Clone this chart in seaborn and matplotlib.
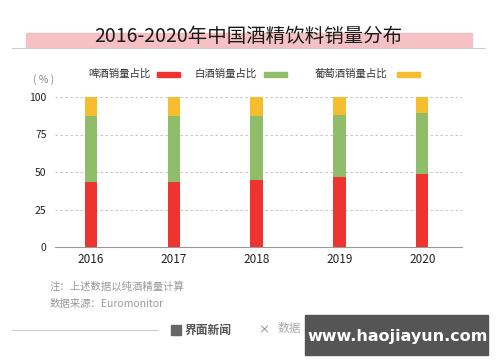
import numpy as np
import pandas as pd
import matplotlib
matplotlib.use('Agg')
import matplotlib.pyplot as plt
import seaborn as sns
from matplotlib.patches import Rectangle

years = ['2016', '2017', '2018', '2019', '2020']
beer = [43.6, 43.6, 44.7, 46.5, 48.7]
baijiu = [43.8, 44.0, 42.9, 41.8, 40.9]
wine = [12.6, 12.4, 12.4, 11.7, 10.4]
series_names = ['啤酒销量占比', '白酒销量占比', '葡萄酒销量占比']
colors = ['#ee3431', '#8fbd6a', '#f6bd2f']
yticks = [0, 25, 50, 75, 100]

sns.set_theme(style='white')
plt.rcParams['font.family'] = ['Noto Sans CJK SC', 'DejaVu Sans']

df = pd.DataFrame({'year': years, 'beer': beer, 'baijiu': baijiu, 'wine': wine})
df['top'] = df['beer'] + df['baijiu'] + df['wine']
df['mid'] = df['beer'] + df['baijiu']

fig = plt.figure(figsize=(5, 3.62), dpi=100)
W, H = 500, 362
ax = fig.add_axes([55 / W, (H - 247) / H, (462 - 55) / W, 150 / H])

# stacked by layering cumulative heights
for col, c in zip(['top', 'mid', 'beer'], colors[::-1]):
    sns.barplot(data=df, x='year', y=col, color=c, width=0.15, ax=ax,
                saturation=1, edgecolor='none')

ax.set_xlim(-0.435, 4.48)
ax.set_ylim(0, 100)
ax.set_yticks(yticks)
ax.set_yticklabels([str(t) for t in yticks], fontsize=7.5, color='#222222')
ax.set_xticks(range(len(years)))
ax.set_xticklabels(years, fontsize=8.5, color='#222222')
ax.tick_params(axis='x', pad=4, length=0)
ax.tick_params(axis='y', pad=6, length=0)
ax.set_xlabel('')
ax.set_ylabel('')
for t in [25, 50, 75, 100]:
    ax.axhline(t, color='#bbbbbb', lw=0.6, ls=(0, (3, 3)), zorder=0)
for s in ['top', 'right', 'left']:
    ax.spines[s].set_visible(False)
ax.spines['bottom'].set_color('#999999')
ax.spines['bottom'].set_linewidth(0.8)
ax.set_axisbelow(True)

# title with pink band
fig.patches.append(Rectangle((26 / W, (H - 47) / H), 446 / W, 14 / H,
                             transform=fig.transFigure, color='#f6c1c4', zorder=0))
fig.lines.append(plt.Line2D([12 / W, 485 / W], [(H - 47.5) / H] * 2,
                            transform=fig.transFigure, color='#cccccc', lw=0.8))
fig.text(248 / W, (H - 36) / H, '2016-2020年中国酒精饮料销量分布', ha='center', va='center',
         fontsize=14, color='#1a1a1a')

# legend
leg_text_x = [88, 195, 315]
leg_patch_x = [157, 264, 397]
for name, c, tx, px in zip(series_names, colors, leg_text_x, leg_patch_x):
    fig.text(tx / W, (H - 74) / H, name, ha='left', va='center', fontsize=7.5, color='#333333')
    fig.patches.append(Rectangle((px / W, (H - 77) / H), 23 / W, 5 / H,
                                 transform=fig.transFigure, color=c))
fig.text(33 / W, (H - 80) / H, '( % )', ha='left', va='center', fontsize=7.5, color='#888888')

# footer notes
fig.text(50 / W, (H - 287) / H, '注：上述数据以纯酒精量计算', ha='left', va='center',
         fontsize=7.5, color='#999999')
fig.text(50 / W, (H - 304) / H, '数据来源：Euromonitor', ha='left', va='center',
         fontsize=7.5, color='#999999')
fig.lines.append(plt.Line2D([12 / W, 158 / W], [(H - 330) / H] * 2,
                            transform=fig.transFigure, color='#cccccc', lw=0.8))
fig.patches.append(Rectangle((171 / W, (H - 335) / H), 10 / W, 10 / H,
                             transform=fig.transFigure, color='#666666'))
fig.text(185 / W, (H - 330) / H, '界面新闻', ha='left', va='center', fontsize=8.5,
         color='#555555', fontweight='bold')
fig.text(264 / W, (H - 330) / H, '×', ha='center', va='center', fontsize=8, color='#777777')
fig.text(278 / W, (H - 328) / H, '数据', ha='left', va='center', fontsize=8.5, color='#aaaaaa')
fig.patches.append(Rectangle((305 / W, (H - 355) / H), 183 / W, 40 / H,
                             transform=fig.transFigure, color='#555555'))
fig.text(398 / W, (H - 336) / H, 'www.haojiayun.com', ha='center', va='center',
         fontsize=11.5, color='white', fontweight='bold', family=['DejaVu Sans'])

fig.savefig('out.png', dpi=100)
